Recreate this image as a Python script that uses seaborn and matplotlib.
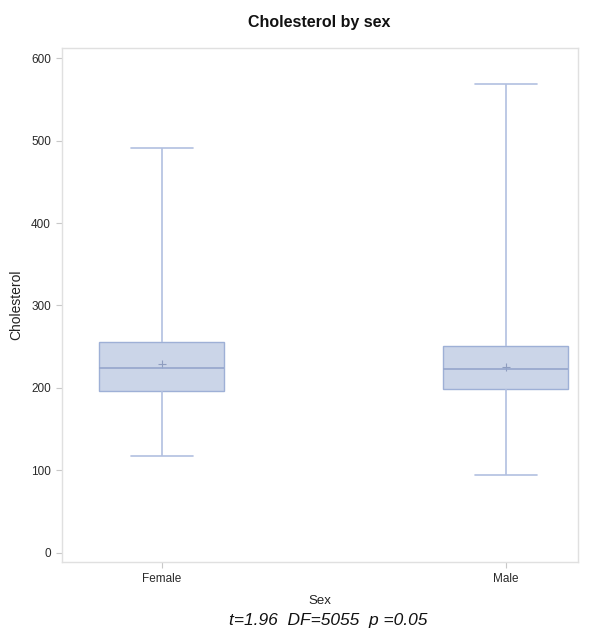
import pandas as pd
import numpy as np
import matplotlib
matplotlib.use("Agg")
import matplotlib.pyplot as plt
import seaborn as sns

# five-number summaries (min, q1, median, q3, max)
sexes = ["Female", "Male"]
female_summary = [117, 196, 224, 256, 491]
male_summary = [95, 199, 223, 251, 569]
means = [229, 226]
yticks = [0, 100, 200, 300, 400, 500, 600]

df = pd.DataFrame({
    "Sex": ["Female"] * 5 + ["Male"] * 5,
    "Cholesterol": female_summary + male_summary,
})

sns.set_style("white")
plt.rcParams["font.family"] = ["Liberation Sans", "DejaVu Sans"]

fill = "#CBD5E8"
edge = "#9EB0D6"
fig = plt.figure(figsize=(5.97, 6.34), dpi=100)
ax = fig.add_axes([0.104, 0.1136, 0.864, 0.8104])

# 5 points per group -> quartiles land exactly on the listed values
sns.boxplot(data=df, x="Sex", y="Cholesterol", order=sexes, whis=(0, 100),
            width=0.364, ax=ax,
            boxprops=dict(facecolor=fill, edgecolor=edge, linewidth=1.0),
            medianprops=dict(color="#95A6CC", linewidth=1.2),
            whiskerprops=dict(color="#B2C0E0", linewidth=1.2),
            capprops=dict(color="#B2C0E0", linewidth=1.2),
            capwidths=0.18, showfliers=False)
ax.plot(sexes, means, linestyle="none", marker="+", markersize=6,
        color="#8E9DBF", markeredgewidth=0.8)

ax.set_xlim(-0.29, 1.21)
ax.set_ylim(-11, 612)
ax.set_yticks(yticks)
ax.tick_params(axis="both", left=True, bottom=True, direction="out",
               length=4, width=0.8, color="#C8C8C8",
               labelsize=8.5, labelcolor="#2A2A2A", pad=4)
for s in ax.spines.values():
    s.set_color("#E0E0E0")
    s.set_linewidth(1.0)
ax.set_ylabel("Cholesterol", fontsize=10, color="#222222", labelpad=6)
ax.set_xlabel("Sex", fontsize=9.5, color="#222222", labelpad=7)

fig.text(0.535, 0.965, "Cholesterol by sex", ha="center", va="center",
         fontsize=11.5, fontweight="bold", color="#111111")
fig.text(0.55, 0.022, "t=1.96  DF=5055  p =0.05", ha="center", va="center",
         fontsize=12.5, style="italic", color="#111111")

fig.savefig("out.png", dpi=100)
